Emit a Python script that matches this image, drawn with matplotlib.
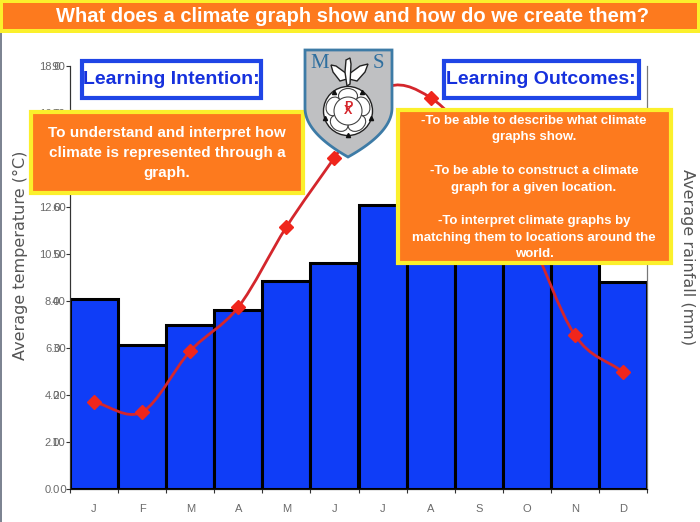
import numpy as np
import matplotlib
matplotlib.use('Agg')
import matplotlib.pyplot as plt
from matplotlib.patches import Rectangle, Polygon, Circle, Ellipse, PathPatch
from matplotlib.path import Path

months = ['J', 'F', 'M', 'A', 'M', 'J', 'J', 'A', 'S', 'O', 'N', 'D']
rainfall = [40.5, 30.7, 35.0, 38.0, 44.3, 48.0, 60.5, 58.0, 52.0, 56.0, 50.0, 44.0]
temperature = [3.7, 3.28, 5.87, 7.74, 11.15, 14.1, 17.0, 16.65, 14.4, 11.0, 6.55, 4.98]
temp_ticks = [0, 2, 4, 6, 8, 10, 12, 14, 16, 18]
rain_ticks = [0, 10, 20, 30, 40, 50, 60, 70, 80, 90]

title = 'What does a climate graph show and how do we create them?'
intention = 'To understand and interpret how\nclimate is represented through a\ngraph.'
outcomes = ('-To be able to describe what climate\ngraphs show.\n\n'
            '-To be able to construct a climate\ngraph for a given location.\n\n'
            '-To interpret climate graphs by\nmatching them to locations around the\nworld.')

W, H = 700, 522
ORANGE = '#fd7a1e'
YELLOW = '#fbf02c'
BLUE = '#1f45e6'
TICK = '#6a6a6a'
LABEL = '#555555'

fig = plt.figure(figsize=(W / 100, H / 100), dpi=100)

# rainfall bars on the base axes, temperature goes on a twin so it draws on top
ax = fig.add_axes([70 / W, 1 - 489 / H, 577 / W, 423 / H])
centres = np.arange(12) + 0.5
ax.bar(centres, rainfall, width=1, color='#0f3df7', edgecolor='black', linewidth=2.2)
ax.set_xlim(0, 12)
ax.set_ylim(0, 90)
ax.yaxis.tick_right()
ax.set_yticks(rain_ticks)
ax.tick_params(axis='y', length=0, pad=3, labelsize=8, labelcolor=TICK)
for t in ax.get_yticklabels():
    t.set_fontfamily('Liberation Sans')
    t.set_verticalalignment('bottom')
ax.set_xticks(range(13))
ax.set_xticklabels([])
ax.set_xticks(centres, minor=True)
ax.set_xticklabels(months, minor=True, fontsize=8, color=TICK, fontfamily='Liberation Sans')
ax.tick_params(axis='x', which='major', length=3, color='#333333')
ax.tick_params(axis='x', which='minor', length=0, pad=11)

tx = ax.twinx()
tx.yaxis.tick_left()
tx.set_ylim(0, 18)
tx.set_yticks(temp_ticks)
tx.set_yticklabels(['%.1f' % v for v in temp_ticks], fontsize=8, color=TICK, fontfamily='Liberation Sans')
tx.tick_params(axis='y', length=3, pad=4, color='#333333')

for a in (ax, tx):
    a.spines['top'].set_visible(False)
    a.spines['left'].set_color('#333333')
    a.spines['right'].set_color('#777777')
    a.spines['bottom'].set_color('#111111')

# smooth line through the monthly values, drawn as bezier segments
y = np.array(temperature)
slope = np.gradient(y)
verts = [(centres[0], y[0])]
codes = [Path.MOVETO]
for i in range(11):
    verts += [(centres[i] + 1 / 3, y[i] + slope[i] / 3),
              (centres[i + 1] - 1 / 3, y[i + 1] - slope[i + 1] / 3),
              (centres[i + 1], y[i + 1])]
    codes += [Path.CURVE4] * 3
tx.add_patch(PathPatch(Path(verts, codes), fill=False, edgecolor='#d4262c', linewidth=2))
tx.plot(centres, temperature, linestyle='none', marker='D', markersize=7.5, color='#f0261c')

# slide furniture on top, in pixel coordinates
ov = fig.add_axes([0, 0, 1, 1], zorder=5)
ov.set_xlim(0, W)
ov.set_ylim(H, 0)
ov.axis('off')
ov.patch.set_alpha(0)


def box(x0, y0, x1, y1, face, edge, lw):
    ov.add_patch(Rectangle((x0 + 1, y0 + 2), x1 - x0, y1 - y0, facecolor='#999999', alpha=0.5, edgecolor='none'))
    ov.add_patch(Rectangle((x0, y0), x1 - x0, y1 - y0, facecolor=face, edgecolor=edge, linewidth=lw))


ov.add_patch(Rectangle((0, 33), 2, H - 33, facecolor='#7d8492', edgecolor='none'))
ov.add_patch(Rectangle((0, 0), W, 33, facecolor=YELLOW, edgecolor='none'))
ov.add_patch(Rectangle((3, 3), W - 6, 26, facecolor=ORANGE, edgecolor='none'))
ov.text(352, 16.5, title, color='white', fontsize=14.5, fontweight='bold', family='Liberation Sans',
        ha='center', va='center')

box(81.5, 60.5, 260.5, 97.5, 'white', BLUE, 3)
ov.text(171, 80, 'Learning Intention:', color='#1530dd', fontsize=14, fontweight='bold',
        family='Liberation Sans', ha='center', va='center')
box(443.5, 60.5, 638.5, 97.5, 'white', BLUE, 3)
ov.text(541, 80, 'Learning Outcomes:', color='#1530dd', fontsize=14, fontweight='bold',
        family='Liberation Sans', ha='center', va='center')

box(31, 112, 303, 193, ORANGE, YELLOW, 3)
ov.text(167, 153, intention, color='white', fontsize=11, fontweight='bold', family='Liberation Sans',
        ha='center', va='center', linespacing=1.5)
box(398, 110, 671, 263, ORANGE, YELLOW, 3)
ov.text(534, 187.5, outcomes, color='white', fontsize=9.5, fontweight='bold', family='Liberation Sans',
        ha='center', va='center', linespacing=1.52)

ov.text(20, 255, 'Average temperature (°C)', rotation=90, color=LABEL, fontsize=11.5,
        family='DejaVu Sans', ha='center', va='center')
ov.text(687, 257, 'Average rainfall (mm)', rotation=270, color=LABEL, fontsize=11.5,
        family='DejaVu Sans', ha='center', va='center')

# school crest
t = np.linspace(0, 1, 30)
left_side = np.column_stack([305 + 43 * t ** 2, 108 + 49 * t])
right_side = np.column_stack([392 - 44 * t[::-1] ** 2, 108 + 49 * t[::-1]])
crest = np.vstack([[(305, 50)], left_side, right_side, [(392, 50)]])
ov.add_patch(Polygon(crest, closed=True, facecolor='#bfc0c2', edgecolor='#3d7ba6', linewidth=2))
ov.text(320, 64, 'M', color='#2f6f9f', fontsize=15, family='Liberation Serif', ha='center', va='center')
ov.text(378, 64, 'S', color='#2f6f9f', fontsize=15, family='Liberation Serif', ha='center', va='center')

# dove
for pts in ([(347, 74), (336, 66), (331, 65), (333, 72), (340, 81), (347, 79)],
            [(349, 74), (360, 66), (368, 64), (365, 72), (357, 81), (349, 79)],
            [(346, 60), (350, 58), (351, 64), (350, 84), (347, 86), (345, 72)]):
    ov.add_patch(Polygon(pts, closed=True, facecolor='white', edgecolor='#222222', linewidth=1))

# rose
ov.add_patch(Circle((348, 111), 24.5, facecolor='white', edgecolor='#222222', linewidth=1))
for a in np.deg2rad(np.arange(-90, 270, 72)):
    ov.add_patch(Ellipse((348 + 15 * np.cos(a), 111 + 15 * np.sin(a)), 19, 15, angle=np.rad2deg(a) + 90,
                         facecolor='white', edgecolor='#444444', linewidth=0.8))
for a in np.deg2rad(np.arange(-90, 270, 72) + 36):
    ov.plot(348 + 24 * np.cos(a), 111 + 24 * np.sin(a), marker='^', markersize=3, color='#111111')
ov.add_patch(Circle((348, 111), 14, facecolor='white', edgecolor='#444444', linewidth=0.8))
ov.text(348, 111, 'X', color='#d5262c', fontsize=9, fontweight='bold', family='Liberation Sans', ha='center', va='center')
ov.text(348, 107, 'P', color='#d5262c', fontsize=9, fontweight='bold', family='Liberation Sans', ha='center', va='center')

fig.savefig('out.png', dpi=100)
